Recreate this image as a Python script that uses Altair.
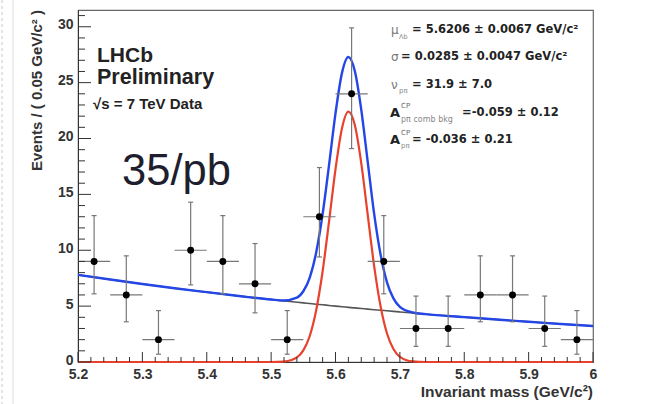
import altair as alt
import pandas as pd

# ---------------- data ----------------
bin_center = [5.225, 5.275, 5.325, 5.375, 5.425, 5.475, 5.525, 5.575,
              5.625, 5.675, 5.725, 5.775, 5.825, 5.875, 5.925, 5.975]
bin_lo = [5.20, 5.25, 5.30, 5.35, 5.40, 5.45, 5.50, 5.55,
          5.60, 5.65, 5.70, 5.75, 5.80, 5.85, 5.90, 5.95]
bin_hi = [5.25, 5.30, 5.35, 5.40, 5.45, 5.50, 5.55, 5.60,
          5.65, 5.70, 5.75, 5.80, 5.85, 5.90, 5.95, 6.00]
counts = [9, 6, 2, 10, 9, 7, 2, 13, 24, 9, 3, 3, 6, 6, 3, 2]
err_lo = [6.1, 3.6, 0.7, 6.9, 6.1, 4.4, 0.7, 9.4, 19.1, 6.1, 1.4, 1.4, 3.6, 3.6, 1.4, 0.7]
err_hi = [13.1, 9.5, 4.6, 14.3, 13.1, 10.6, 4.6, 17.4, 29.9, 13.1, 5.9, 5.9, 9.5, 9.5, 5.9, 4.6]

curve_x = [5.20, 5.25, 5.30, 5.35, 5.40, 5.45, 5.50, 5.52, 5.54, 5.55, 5.56, 5.57,
           5.58, 5.59, 5.60, 5.61, 5.62, 5.63, 5.64, 5.65, 5.66, 5.67, 5.68, 5.69,
           5.70, 5.72, 5.74, 5.80, 5.85, 5.90, 5.95, 6.00]
bkg_y = [7.80, 7.38, 6.98, 6.60, 6.25, 5.91, 5.59, 5.47, 5.35, 5.29, 5.23, 5.17,
         5.12, 5.06, 5.00, 4.95, 4.89, 4.84, 4.79, 4.73, 4.68, 4.63, 4.58, 4.53,
         4.48, 4.38, 4.28, 4.02, 3.80, 3.60, 3.40, 3.22]
sig_y = [0, 0, 0, 0, 0, 0, 0, 0.04, 0.41, 1.04, 2.33, 4.63,
         8.12, 12.58, 17.25, 20.9, 22.4, 21.2, 17.8, 13.2, 8.6, 4.99, 2.55, 1.16,
         0.46, 0.05, 0, 0, 0, 0, 0, 0]
tot_y = [7.80, 7.38, 6.98, 6.60, 6.25, 5.91, 5.59, 5.51, 5.76, 6.33, 7.56, 9.80,
         13.24, 17.64, 22.25, 25.85, 27.29, 26.04, 22.59, 17.93, 13.28, 9.62, 7.13, 5.69,
         4.94, 4.43, 4.28, 4.02, 3.80, 3.60, 3.40, 3.22]

x_major = [5.2, 5.3, 5.4, 5.5, 5.6, 5.7, 5.8, 5.9, 6.0]
x_minor = [5.22, 5.24, 5.26, 5.28, 5.32, 5.34, 5.36, 5.38, 5.42, 5.44, 5.46, 5.48,
           5.52, 5.54, 5.56, 5.58, 5.62, 5.64, 5.66, 5.68, 5.72, 5.74, 5.76, 5.78,
           5.82, 5.84, 5.86, 5.88, 5.92, 5.94, 5.96, 5.98]
y_major = [0, 5, 10, 15, 20, 25, 30]
y_minor = [1, 2, 3, 4, 6, 7, 8, 9, 11, 12, 13, 14, 16, 17, 18, 19, 21, 22, 23, 24,
           26, 27, 28, 29, 31]

W, H = 515, 352
FONT = "Liberation Sans"

data = pd.DataFrame({"c": bin_center, "lo": bin_lo, "hi": bin_hi, "n": counts,
                     "elo": err_lo, "ehi": err_hi})
curves = pd.DataFrame({"x": curve_x, "bkg": bkg_y, "sig": sig_y, "tot": tot_y})

xs = alt.Scale(domain=[5.2, 6.0], nice=False, zero=False)
ys = alt.Scale(domain=[0, 31.5], nice=False, zero=True)

one = pd.DataFrame({"a": [0]})

def txt(s, x, y, size, weight="bold", color="#222", font=FONT, align="left",
        baseline="middle", angle=0):
    kw = dict(text=s, fontSize=size, fontWeight=weight, color=color, font=font,
              align=align, baseline=baseline)
    if angle:
        kw["angle"] = angle
    return alt.Chart(one).mark_text(**kw).encode(x=alt.value(x - 78), y=alt.value(y - 10))

base_x = alt.X("x:Q", scale=xs,
               axis=alt.Axis(values=x_major, format=".1~f", ticks=False, labelPadding=5,
                             labelFlush=False, labelFont=FONT, labelFontWeight="bold",
                             labelFontSize=14, labelColor="#333", domainColor="#333",
                             grid=False, title=None))
base_y = alt.Y("bkg:Q", scale=ys,
               axis=alt.Axis(values=y_major, format="d", ticks=False, labelPadding=5,
                             labelFlush=False, labelFont=FONT, labelFontWeight="bold",
                             labelFontSize=14, labelColor="#333", domainColor="#333",
                             grid=False, title=None, labelOffset=-2))

page_lines = alt.layer(
    alt.Chart(one).mark_rule(color="#c8c8c8", strokeWidth=1, strokeDash=[3, 3]).encode(
        x=alt.value(2 - 78), y=alt.value(-10), y2=alt.value(394)),
    alt.Chart(one).mark_rule(color="#dcdcdc", strokeWidth=1).encode(
        x=alt.value(13 - 78), y=alt.value(-10), y2=alt.value(394)),
)

bkg = alt.Chart(curves).mark_line(color="#555555", strokeWidth=1.6,
                                  interpolate="monotone").encode(x=base_x, y=base_y)
sig = alt.Chart(curves).mark_line(color="#e8412c", strokeWidth=2.2,
                                  interpolate="monotone").encode(
    x=alt.X("x:Q", scale=xs), y=alt.Y("sig:Q", scale=ys))
tot = alt.Chart(curves).mark_line(color="#2446e6", strokeWidth=2.4,
                                  interpolate="monotone").encode(
    x=alt.X("x:Q", scale=xs), y=alt.Y("tot:Q", scale=ys))

vbar = alt.Chart(data).mark_rule(color="#777", strokeWidth=1.2).encode(
    x=alt.X("c:Q", scale=xs), y=alt.Y("elo:Q", scale=ys), y2="ehi:Q")
hbar = alt.Chart(data).mark_rule(color="#777", strokeWidth=1.2).encode(
    x=alt.X("lo:Q", scale=xs), x2="hi:Q", y=alt.Y("n:Q", scale=ys))
cap_top = alt.Chart(data).mark_rule(color="#777", strokeWidth=1.2, xOffset=-2.5,
                                    x2Offset=2.5).encode(
    x=alt.X("c:Q", scale=xs), x2="c:Q", y=alt.Y("ehi:Q", scale=ys))
cap_bot = alt.Chart(data).mark_rule(color="#777", strokeWidth=1.2, xOffset=-2.5,
                                    x2Offset=2.5).encode(
    x=alt.X("c:Q", scale=xs), x2="c:Q", y=alt.Y("elo:Q", scale=ys))
pts = alt.Chart(data).mark_circle(color="black", opacity=1, size=48).encode(
    x=alt.X("c:Q", scale=xs), y=alt.Y("n:Q", scale=ys))

ymaj = alt.Chart(pd.DataFrame({"v": y_major})).mark_rule(color="#333", strokeWidth=1).encode(
    y=alt.Y("v:Q", scale=ys), x=alt.value(0), x2=alt.value(13))
ymin = alt.Chart(pd.DataFrame({"v": y_minor})).mark_rule(color="#333", strokeWidth=1).encode(
    y=alt.Y("v:Q", scale=ys), x=alt.value(0), x2=alt.value(7))
xmaj = alt.Chart(pd.DataFrame({"v": x_major})).mark_rule(color="#333", strokeWidth=1).encode(
    x=alt.X("v:Q", scale=xs), y=alt.value(H), y2=alt.value(H - 10))
xmin = alt.Chart(pd.DataFrame({"v": x_minor})).mark_rule(color="#333", strokeWidth=1).encode(
    x=alt.X("v:Q", scale=xs), y=alt.value(H), y2=alt.value(H - 5))

DV = "DejaVu Sans"
texts = [
    txt("Events / ( 0.05 GeV/c² )", 37, 10, 15, align="right", angle=270, color="#333"),
    txt("Invariant mass (GeV/c²)", 593, 392, 15.5, align="right", color="#333"),
    txt("LHCb", 97, 62, 21, baseline="alphabetic", color="#222"),
    txt("Preliminary", 97, 84, 21.5, baseline="alphabetic", color="#222"),
    txt("√s = 7 TeV Data", 93, 109, 15, baseline="alphabetic", color="#222"),
    txt("35/pb", 122, 185, 43.5, weight="normal", baseline="alphabetic", color="#1e1e2e"),
    # parameter box
    txt("μ", 391, 30, 12, weight="normal", color="#777", font=DV),
    txt("Λb", 399, 37, 6.5, weight="normal", color="#888", font=DV),
    txt("= 5.6206 ± 0.0067 GeV/c²", 412, 30, 11.5, font=DV),
    txt("σ", 391, 57, 12, weight="normal", color="#777", font=DV),
    txt("= 0.0285 ± 0.0047 GeV/c²", 401, 57, 11.5, font=DV),
    txt("ν", 391, 85, 12, weight="normal", color="#777", font=DV),
    txt("pπ", 399, 91, 7, weight="normal", color="#888", font=DV),
    txt("= 31.9 ± 7.0", 412, 85, 11.5, font=DV),
    txt("A", 390, 113, 13, font=DV),
    txt("CP", 401, 106, 7, weight="normal", color="#666", font=DV),
    txt("pπ comb bkg", 401, 120, 8, weight="normal", color="#888", font=DV),
    txt("=-0.059 ± 0.12", 462, 113, 11.5, font=DV),
    txt("A", 390, 140, 13, font=DV),
    txt("CP", 401, 133, 7, weight="normal", color="#666", font=DV),
    txt("pπ", 401, 146, 7, weight="normal", color="#888", font=DV),
    txt("= -0.036 ± 0.21", 412, 140, 11.5, font=DV),
]

chart = alt.layer(
    page_lines, bkg, sig, tot, vbar, hbar, cap_top, cap_bot, pts,
    ymaj, ymin, xmaj, xmin, *texts
).properties(
    width=W, height=H,
    autosize=alt.AutoSizeParams(type="none"),
    padding={"left": 78, "top": 10, "right": 61, "bottom": 42},
    background="white",
).configure_view(stroke="#666", strokeWidth=1.2)

chart.save("out.html", embed_options={"renderer": "svg", "actions": False})
